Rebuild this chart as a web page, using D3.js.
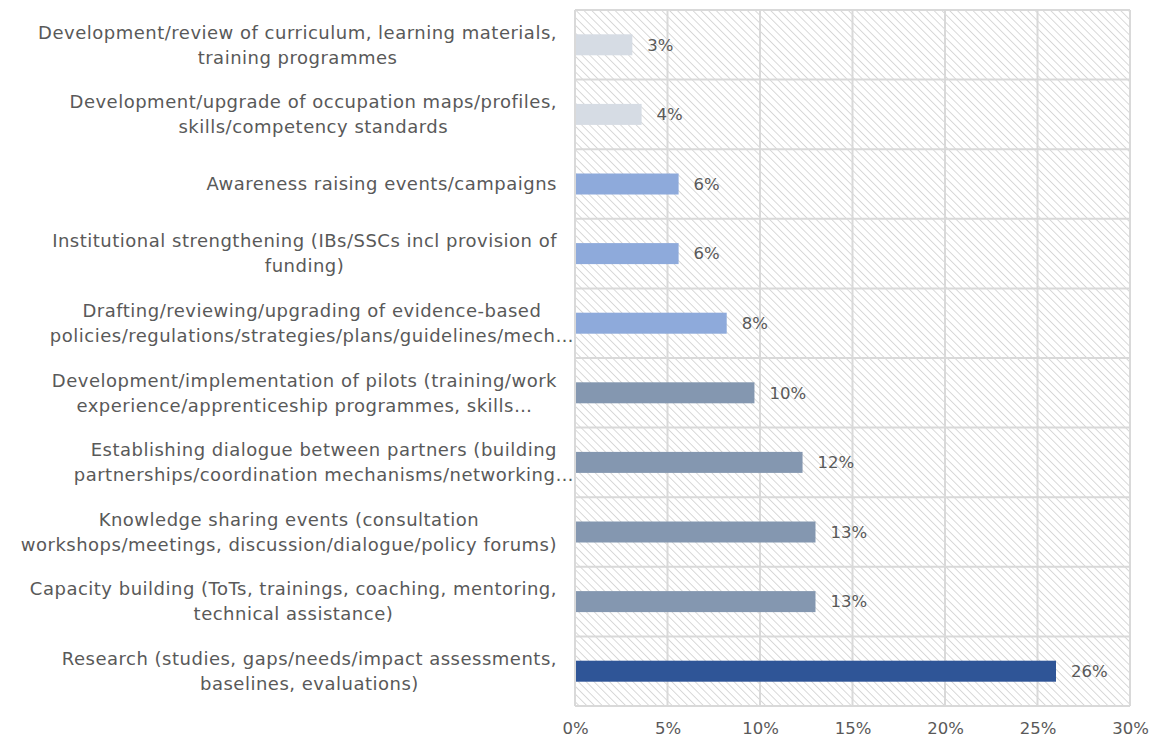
<!DOCTYPE html>
<html>
<head>
<meta charset="utf-8">
<script src="https://cdn.jsdelivr.net/npm/d3@7"></script>
<style>
  body { margin: 0; background: #fff; }
  svg text { font-family: "Century Gothic", "DejaVu Sans", sans-serif; fill: #595959; }
</style>
</head>
<body>
<div id="chart"></div>
<script>
// categories top to bottom, each as wrapped lines
const categories = [
  ["Development/review of curriculum, learning materials,", "training programmes"],
  ["Development/upgrade of occupation maps/profiles,", "skills/competency standards"],
  ["Awareness raising events/campaigns"],
  ["Institutional strengthening (IBs/SSCs incl provision of", "funding)"],
  ["Drafting/reviewing/upgrading of evidence-based", "policies/regulations/strategies/plans/guidelines/mech…"],
  ["Development/implementation of pilots (training/work", "experience/apprenticeship programmes, skills…"],
  ["Establishing dialogue between partners (building", "partnerships/coordination mechanisms/networking…"],
  ["Knowledge sharing events (consultation", "workshops/meetings, discussion/dialogue/policy forums)"],
  ["Capacity building (ToTs, trainings, coaching, mentoring,", "technical assistance)"],
  ["Research (studies, gaps/needs/impact assessments,", "baselines, evaluations)"]
];
const values = [3.1, 3.6, 5.6, 5.6, 8.2, 9.7, 12.3, 13.0, 13.0, 26.0];
const valueLabels = ["3%", "4%", "6%", "6%", "8%", "10%", "12%", "13%", "13%", "26%"];
const barColors = ["#d6dce4", "#d6dce4", "#8eaadb", "#8eaadb", "#8eaadb",
  "#8497b0", "#8497b0", "#8497b0", "#8497b0", "#2f5597"];
const xTicks = [0, 5, 10, 15, 20, 25, 30];

const width = 1150, height = 738;
const margin = { top: 10, right: 20, bottom: 32, left: 575 };
const innerW = width - margin.left - margin.right;
const innerH = height - margin.top - margin.bottom;

const svg = d3.select("#chart").append("svg")
  .attr("width", width)
  .attr("height", height);

const defs = svg.append("defs");
const pat = defs.append("pattern")
  .attr("id", "hatch")
  .attr("patternUnits", "userSpaceOnUse")
  .attr("width", 5.5)
  .attr("height", 5.5)
  .attr("patternTransform", "rotate(-45)");
pat.append("line")
  .attr("x1", 0).attr("y1", 0).attr("x2", 0).attr("y2", 5.5)
  .attr("stroke", "#d0d0d0")
  .attr("stroke-width", 1.6);

const g = svg.append("g").attr("transform", `translate(${margin.left},${margin.top})`);

const x = d3.scaleLinear().domain([0, 30]).range([0, innerW]);
const y = d3.scaleBand().domain(d3.range(categories.length)).range([0, innerH]).paddingInner(0).paddingOuter(0);

g.append("rect")
  .attr("width", innerW)
  .attr("height", innerH)
  .attr("fill", "url(#hatch)");

// gridlines
g.selectAll(".vgrid")
  .data(xTicks)
  .enter()
  .append("line")
  .attr("class", "vgrid")
  .attr("x1", d => x(d)).attr("x2", d => x(d))
  .attr("y1", 0).attr("y2", innerH)
  .attr("stroke", "#d9d9d9")
  .attr("stroke-width", 2);

g.selectAll(".hgrid")
  .data(d3.range(categories.length + 1))
  .enter()
  .append("line")
  .attr("class", "hgrid")
  .attr("x1", 0).attr("x2", innerW)
  .attr("y1", d => d * y.step()).attr("y2", d => d * y.step())
  .attr("stroke", "#d9d9d9")
  .attr("stroke-width", 2);

// bars
const barH = 21;
g.selectAll(".bar")
  .data(values)
  .enter()
  .append("rect")
  .attr("class", "bar")
  .attr("x", 1)
  .attr("y", (d, i) => y(i) + y.bandwidth() / 2 - barH / 2)
  .attr("width", d => x(d) - 1)
  .attr("height", barH)
  .attr("fill", (d, i) => barColors[i]);

g.selectAll(".val")
  .data(values)
  .enter()
  .append("text")
  .attr("class", "val")
  .attr("x", d => x(d) + 15)
  .attr("y", (d, i) => y(i) + y.bandwidth() / 2)
  .attr("dy", "0.35em")
  .style("font-size", "16.5px")
  .text((d, i) => valueLabels[i]);

// x axis labels
const xAxis = d3.axisBottom(x)
  .tickValues(xTicks)
  .tickFormat(d => d + "%")
  .tickSize(0)
  .tickPadding(16);
const ax = g.append("g")
  .attr("transform", `translate(0,${innerH})`)
  .call(xAxis);
ax.select(".domain").remove();
ax.selectAll("text")
  .style("font-family", null)
  .style("font-size", "16.5px")
  .attr("fill", null);

// category labels: lines centred on a common axis, block right-aligned
const lineH = 25;
categories.forEach((lines, i) => {
  const cy = margin.top + y(i) + y.bandwidth() / 2;
  const grp = svg.append("g");
  const texts = lines.map((t, k) => grp.append("text")
    .attr("y", cy + (k - (lines.length - 1) / 2) * lineH)
    .attr("dy", "0.35em")
    .attr("text-anchor", "middle")
    .style("font-size", "18px")
    .style("letter-spacing", "0.5px")
    .text(t));
  let center = Infinity;
  texts.forEach((t, k) => {
    const w = t.node().getComputedTextLength();
    const edge = lines[k].endsWith("…") ? 574 : 557;
    center = Math.min(center, edge - w / 2);
  });
  texts.forEach(t => t.attr("x", center));
});
</script>
</body>
</html>
